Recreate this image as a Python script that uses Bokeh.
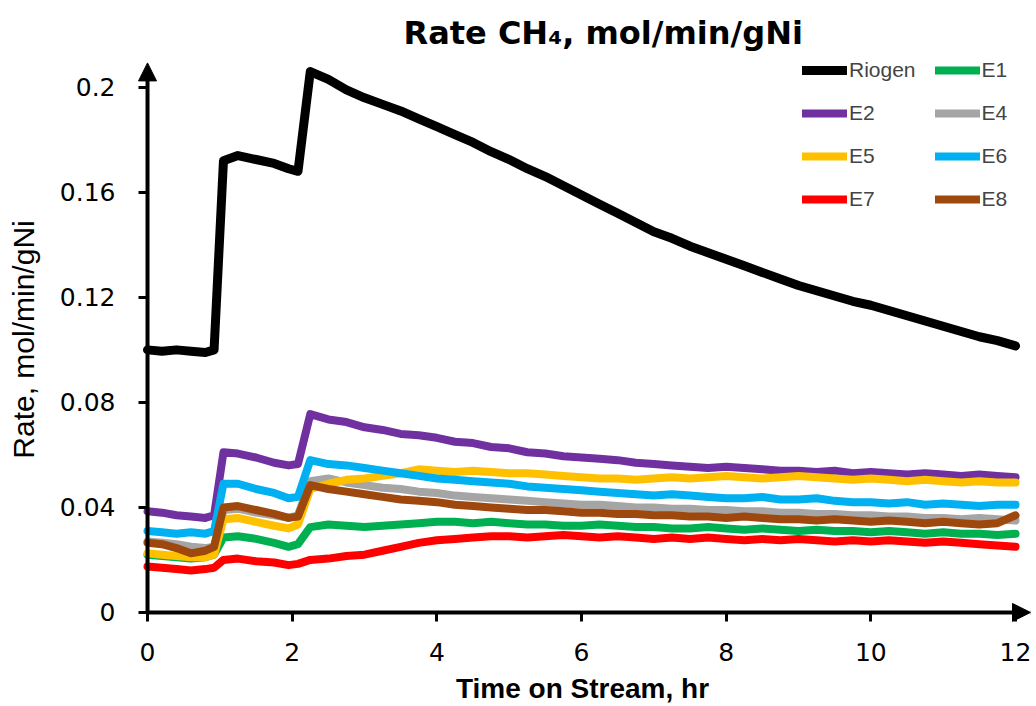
from bokeh.plotting import figure
from bokeh.models import (Range1d, FixedTicker, NumeralTickFormatter, Arrow, NormalHead,
                          Legend, LegendItem, LinearAxis)
from bokeh.embed import file_html
from bokeh.resources import INLINE

# ---------------- data ----------------
time_hr = [0, 0.2, 0.4, 0.6, 0.8, 0.92, 1.05, 1.25, 1.5, 1.75, 1.95, 2.08,
           2.25, 2.5, 2.75, 3.0, 3.25, 3.5, 3.75, 4.0, 4.25, 4.5, 4.75, 5.0,
           5.25, 5.5, 5.75, 6.0, 6.25, 6.5, 6.75, 7.0, 7.25, 7.5, 7.75, 8.0,
           8.25, 8.5, 8.75, 9.0, 9.25, 9.5, 9.75, 10.0, 10.25, 10.5, 10.75, 11.0,
           11.25, 11.5, 11.75, 12.0]

riogen = [0.100, 0.0995, 0.100, 0.0995, 0.099, 0.100, 0.172, 0.174, 0.1725, 0.171, 0.169, 0.168,
          0.206, 0.203, 0.199, 0.196, 0.1935, 0.191, 0.188, 0.185, 0.182, 0.179, 0.1755, 0.1725,
          0.169, 0.166, 0.1625, 0.159, 0.1555, 0.152, 0.1485, 0.145, 0.1425, 0.1395, 0.137, 0.1345,
          0.132, 0.1295, 0.127, 0.1245, 0.1225, 0.1205, 0.1185, 0.117, 0.115, 0.113, 0.111, 0.109,
          0.107, 0.105, 0.1035, 0.1015]

e1 = [0.022, 0.0215, 0.021, 0.0205, 0.021, 0.022, 0.0285, 0.029, 0.028, 0.0265, 0.025, 0.026,
      0.0325, 0.0335, 0.033, 0.0325, 0.033, 0.0335, 0.034, 0.0345, 0.0345, 0.034, 0.0345, 0.034,
      0.0335, 0.0335, 0.033, 0.033, 0.0335, 0.033, 0.0325, 0.0325, 0.032, 0.032, 0.0325, 0.032,
      0.0315, 0.032, 0.0315, 0.031, 0.0315, 0.031, 0.031, 0.0305, 0.031, 0.0305, 0.030, 0.0305,
      0.030, 0.030, 0.0295, 0.030]

e2 = [0.0385, 0.038, 0.037, 0.0365, 0.036, 0.037, 0.061, 0.0605, 0.059, 0.057, 0.056, 0.0565,
      0.0755, 0.0735, 0.0725, 0.0705, 0.0695, 0.068, 0.0675, 0.0665, 0.065, 0.0645, 0.063, 0.0625,
      0.061, 0.0605, 0.0595, 0.059, 0.0585, 0.058, 0.057, 0.0565, 0.056, 0.0555, 0.055, 0.0555,
      0.055, 0.0545, 0.054, 0.054, 0.0535, 0.054, 0.053, 0.0535, 0.053, 0.0525, 0.053, 0.0525,
      0.052, 0.0525, 0.052, 0.0515]

e4 = [0.027, 0.0265, 0.026, 0.025, 0.0245, 0.025, 0.039, 0.0395, 0.038, 0.037, 0.036, 0.037,
      0.050, 0.051, 0.0495, 0.0485, 0.0475, 0.047, 0.046, 0.0455, 0.0445, 0.044, 0.0435, 0.043,
      0.0425, 0.042, 0.0415, 0.041, 0.041, 0.0405, 0.040, 0.040, 0.0395, 0.0395, 0.039, 0.039,
      0.0385, 0.0385, 0.038, 0.038, 0.0375, 0.0375, 0.037, 0.037, 0.0365, 0.0365, 0.036, 0.036,
      0.0355, 0.036, 0.0355, 0.035]

e5 = [0.0225, 0.022, 0.0215, 0.021, 0.021, 0.022, 0.0355, 0.036, 0.0345, 0.033, 0.032, 0.0335,
      0.047, 0.049, 0.0505, 0.051, 0.052, 0.053, 0.0545, 0.054, 0.0535, 0.054, 0.0535, 0.053,
      0.053, 0.0525, 0.052, 0.0515, 0.051, 0.051, 0.0505, 0.051, 0.0515, 0.051, 0.0515, 0.052,
      0.0515, 0.051, 0.0515, 0.052, 0.0515, 0.051, 0.0505, 0.051, 0.0505, 0.050, 0.0505, 0.050,
      0.0495, 0.050, 0.0495, 0.0495]

e6 = [0.031, 0.0305, 0.030, 0.0305, 0.030, 0.031, 0.049, 0.049, 0.047, 0.0455, 0.0435, 0.044,
      0.058, 0.0565, 0.056, 0.055, 0.054, 0.053, 0.052, 0.051, 0.0505, 0.050, 0.0495, 0.049,
      0.048, 0.0475, 0.047, 0.0465, 0.046, 0.0455, 0.045, 0.0445, 0.045, 0.0445, 0.044, 0.0435,
      0.0435, 0.044, 0.043, 0.043, 0.0435, 0.0425, 0.042, 0.042, 0.0415, 0.042, 0.041, 0.0415,
      0.041, 0.0405, 0.041, 0.041]

e7 = [0.0175, 0.017, 0.0165, 0.016, 0.0165, 0.017, 0.020, 0.0205, 0.0195, 0.019, 0.018, 0.0185,
      0.020, 0.0205, 0.0215, 0.022, 0.0235, 0.025, 0.0265, 0.0275, 0.028, 0.0285, 0.029, 0.029,
      0.0285, 0.029, 0.0295, 0.029, 0.0285, 0.029, 0.0285, 0.028, 0.0285, 0.028, 0.0285, 0.028,
      0.0275, 0.028, 0.0275, 0.028, 0.0275, 0.027, 0.0275, 0.027, 0.0275, 0.027, 0.0265, 0.027,
      0.0265, 0.026, 0.0255, 0.025]

e8 = [0.0265, 0.026, 0.0245, 0.0225, 0.0235, 0.025, 0.040, 0.0405, 0.039, 0.0375, 0.036, 0.0365,
      0.0485, 0.047, 0.046, 0.045, 0.044, 0.043, 0.0425, 0.042, 0.041, 0.0405, 0.040, 0.0395,
      0.039, 0.039, 0.0385, 0.038, 0.038, 0.0375, 0.0375, 0.037, 0.037, 0.0365, 0.0365, 0.036,
      0.0365, 0.036, 0.0355, 0.0355, 0.035, 0.0355, 0.035, 0.0345, 0.035, 0.0345, 0.034, 0.0345,
      0.034, 0.0335, 0.034, 0.037]

series_names = ["Riogen", "E1", "E2", "E4", "E5", "E6", "E7", "E8"]
series_values = [riogen, e1, e2, e4, e5, e6, e7, e8]
series_colors = ["#000000", "#00B050", "#7030A0", "#A5A5A5", "#FFC000", "#00B0F0", "#FF0000", "#9E480E"]

x_ticks = [0, 2, 4, 6, 8, 10, 12]
y_ticks = [0, 0.04, 0.08, 0.12, 0.16, 0.2]

TICK_FONT = "DejaVu Sans"
LABEL_FONT = "Liberation Sans"

# ---------------- figure ----------------
p = figure(width=1036, height=706, x_range=Range1d(-0.18, 12.207), y_range=Range1d(-0.0046, 0.2125),
           output_backend="svg", toolbar_location=None,
           min_border_left=134, min_border_right=6, min_border_top=54, min_border_bottom=82)
p.outline_line_color = None
p.grid.grid_line_color = None
p.background_fill_color = "white"

renderers = {}
for name, vals, col in zip(series_names, series_values, series_colors):
    lw = 9 if name == "Riogen" else 8
    renderers[name] = p.line(time_hr, vals, line_color=col, line_width=lw,
                             line_join="round", line_cap="round")

# regular axes at the frame edge: they carry the tick labels and the axis titles only
for ax in (p.xaxis[0], p.yaxis[0]):
    ax.axis_line_color = None
    ax.major_tick_line_color = None
    ax.major_tick_in = 0
    ax.major_tick_out = 0
    ax.minor_tick_line_color = None
    ax.major_label_text_font = TICK_FONT
    ax.major_label_text_font_size = "25px"
    ax.major_label_text_color = "black"
    ax.axis_label_text_font = LABEL_FONT
    ax.axis_label_text_color = "black"

p.xaxis[0].ticker = FixedTicker(ticks=x_ticks)
p.yaxis[0].ticker = FixedTicker(ticks=y_ticks)
p.yaxis[0].formatter = NumeralTickFormatter(format="0.[00]")
p.xaxis[0].major_label_standoff = 18
p.yaxis[0].major_label_standoff = 19
p.xaxis[0].major_label_text_line_height = 1.0
p.xaxis[0].axis_label_text_line_height = 1.0
p.xaxis[0].axis_label = "Time on Stream, hr"
p.yaxis[0].axis_label = "Rate, mol/min/gNi"
p.xaxis[0].axis_label_text_font_size = "28px"
p.xaxis[0].axis_label_text_font_style = "bold"
p.yaxis[0].axis_label_text_font_size = "30px"
p.yaxis[0].axis_label_text_font_style = "normal"
p.xaxis[0].axis_label_standoff = 9
p.yaxis[0].axis_label_standoff = 17

# tick marks drawn at x = 0 and y = 0 (where the arrow axes are)
for side, ticks in (("left", y_ticks), ("below", x_ticks)):
    tick_axis = LinearAxis(fixed_location=0, ticker=FixedTicker(ticks=ticks),
                           axis_line_color=None, major_tick_line_color="black",
                           major_tick_line_width=3, major_tick_in=0, major_tick_out=9,
                           minor_tick_line_color=None, major_label_text_color=None)
    p.add_layout(tick_axis, side)

# axis lines with arrow heads
p.add_layout(Arrow(end=NormalHead(size=18, fill_color="black", line_color="black"),
                   x_start=0, y_start=0, x_end=0, y_end=0.2093, line_width=4, line_color="black"))
p.add_layout(Arrow(end=NormalHead(size=18, fill_color="black", line_color="black"),
                   x_start=0, y_start=0, x_end=12.207, y_end=0, line_width=4, line_color="black"))

# title
p.title.text = "Rate CH₄, mol/min/gNi"
p.title.align = "left"
p.title.offset = 269
p.title.standoff = 6
p.title.text_font = "DejaVu Sans"
p.title.text_font_size = "32px"
p.title.text_font_style = "bold"
p.title.text_color = "black"

# legend (two columns, filled column by column)
order = ["Riogen", "E2", "E5", "E7", "E1", "E4", "E6", "E8"]
legend = Legend(items=[LegendItem(label=n, renderers=[renderers[n]]) for n in order],
                ncols=2, orientation="vertical", location=(668, 413),
                glyph_width=45, glyph_height=24, label_height=24, spacing=19,
                label_standoff=2, padding=0, margin=0,
                label_text_font=LABEL_FONT, label_text_font_size="21px",
                border_line_color=None, background_fill_alpha=0)
p.add_layout(legend)

open("out.html", "w").write(file_html(p, INLINE))
